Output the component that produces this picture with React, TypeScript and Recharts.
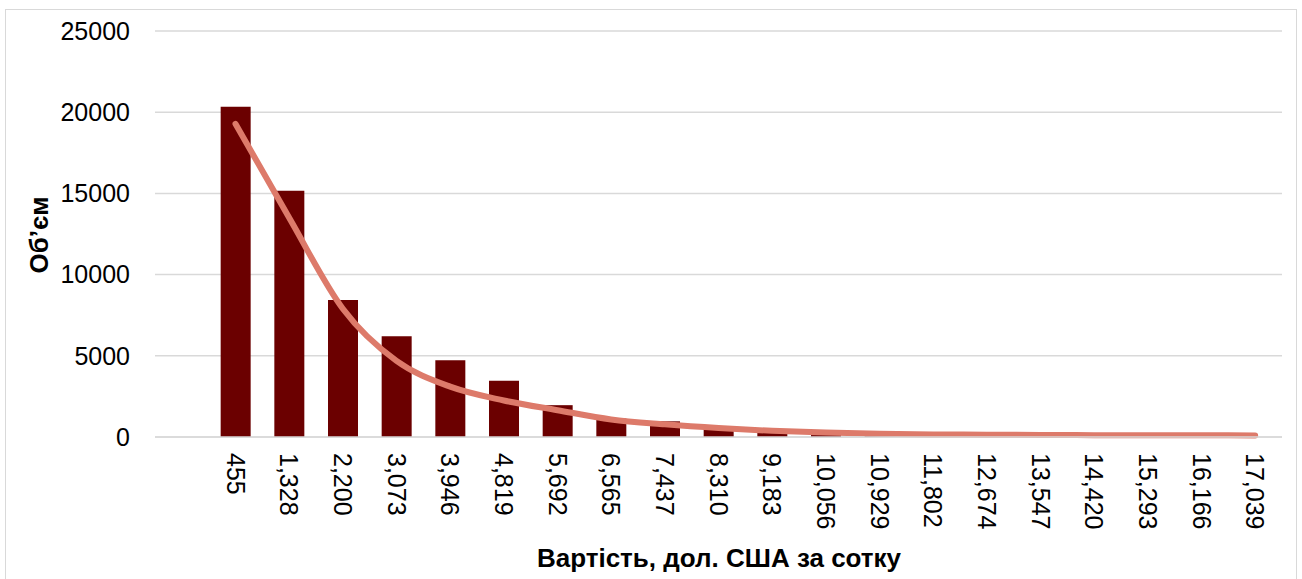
import React from "react";
import { ComposedChart, Bar, Line, XAxis, YAxis, CartesianGrid, Label } from "recharts";

const categories = ["", "455", "1,328", "2,200", "3,073", "3,946", "4,819", "5,692", "6,565", "7,437", "8,310", "9,183", "10,056", "10,929", "11,802", "12,674", "13,547", "14,420", "15,293", "16,166", "17,039"];
const volumes = [null, 20330, 15160, 8440, 6210, 4730, 3460, 1960, 1135, 965, 560, 330, 120, 50, 0, 0, 0, 0, 0, 0, 0];
const trend = [null, 19280, 13500, 7900, 4690, 3100, 2250, 1650, 1080, 780, 550, 380, 270, 200, 160, 140, 125, 115, 110, 105, 100];
const yTicks = [0, 5000, 10000, 15000, 20000, 25000];

const data = categories.map((c, i) => ({ name: c, volume: volumes[i], trend: trend[i] }));

const FONT = '"Liberation Sans", Arial, sans-serif';

const XTick = (props: any) => {
  const { x, y, payload } = props;
  return (
    <text
      x={x}
      y={y}
      transform={`rotate(90, ${x}, ${y})`}
      textAnchor="start"
      dominantBaseline="central"
      fontSize={25}
      fill="#000"
      fontFamily={FONT}
    >
      {payload.value}
    </text>
  );
};

export default function App() {
  return (
    <div style={{ position: "absolute", left: 0, top: 0, width: 1302, height: 579, background: "#fff", overflow: "hidden", fontFamily: FONT }}>
      <div style={{ position: "absolute", left: 5, top: 9, width: 1292, height: 620, border: "1px solid #d9d9d9", boxSizing: "border-box" }} />
      <div style={{ position: "absolute", left: 0, top: 0 }}>
        <ComposedChart width={1302} height={579} data={data} margin={{ top: 31, right: 20, bottom: 0, left: 0 }}>
          <CartesianGrid horizontal={true} vertical={false} stroke="#d9d9d9" strokeWidth={1.5} />
          <XAxis
            dataKey="name"
            interval={0}
            height={142}
            tickSize={0}
            tickMargin={16}
            axisLine={{ stroke: "#d9d9d9", strokeWidth: 1.5 }}
            tickLine={false}
            tick={<XTick />}
          >
            <Label
              content={() => (
                <text
                  x={719}
                  y={567}
                  textAnchor="middle"
                  fontSize={26}
                  fontWeight="bold"
                  fill="#000"
                  fontFamily={FONT}
                >
                  Вартість, дол. США за сотку
                </text>
              )}
            />
          </XAxis>
          <YAxis
            width={155}
            domain={[0, 25000]}
            ticks={yTicks}
            interval={0}
            tickSize={0}
            tickMargin={25}
            axisLine={false}
            tickLine={false}
            tick={{ fontSize: 25, fill: "#000", fontFamily: FONT }}
          >
            <Label
              content={() => (
                <text
                  x={39}
                  y={235}
                  transform="rotate(-90, 39, 235)"
                  textAnchor="middle"
                  dominantBaseline="central"
                  fontSize={26}
                  fontWeight="bold"
                  fill="#000"
                  fontFamily={FONT}
                >
                  Об’єм
                </text>
              )}
            />
          </YAxis>
          <Bar dataKey="volume" fill="#6b0000" barSize={30} isAnimationActive={false} />
          <Line
            dataKey="trend"
            type="monotone"
            stroke="#dd7a6a"
            strokeWidth={6}
            strokeLinecap="round"
            dot={false}
            activeDot={false}
            connectNulls={false}
            isAnimationActive={false}
          />
        </ComposedChart>
      </div>
    </div>
  );
}
